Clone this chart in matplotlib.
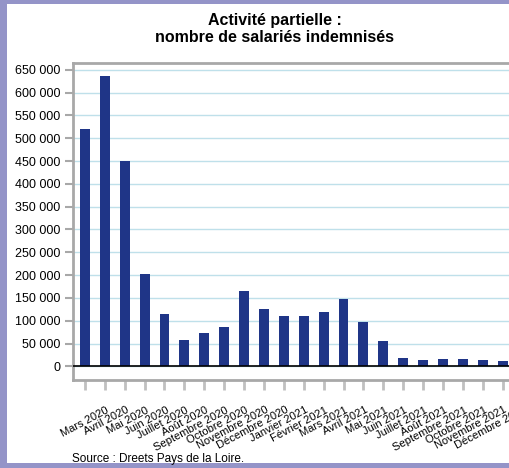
import matplotlib
matplotlib.use("Agg")
import matplotlib.pyplot as plt
from matplotlib.patches import Rectangle
import matplotlib.transforms as mtransforms

months = ["Mars 2020","Avril 2020","Mai 2020","Juin 2020","Juillet 2020","Août 2020",
          "Septembre 2020","Octobre 2020","Novembre 2020","Décembre 2020","Janvier 2021",
          "Février 2021","Mars 2021","Avril 2021","Mai 2021","Juin 2021","Juillet 2021",
          "Août 2021","Septembre 2021","Octobre 2021","Novembre 2021","Décembre 2021"]
values = [520000,637000,450000,202000,115000,57000,73000,86000,165000,126000,110000,
          110000,119000,148000,97000,55000,18000,13000,17000,15000,13000,11000]
yticks = list(range(0, 650001, 50000))
ylabels = ["0"] + [f"{v//1000} 000" for v in yticks[1:]]

W, H = 509, 468
fig = plt.figure(figsize=(W/100, H/100), dpi=100)
fig.patches.append(Rectangle((0, 0), 1, 1, transform=fig.transFigure,
                             facecolor="#9494c8", zorder=-2))
fig.patches.append(Rectangle((7/W, 5/H), 1, 1-9/H, transform=fig.transFigure,
                             facecolor="white", zorder=-1))

ax = fig.add_axes([73/W, (H-380)/H, 1.05-73/W, (380-63)/H])
x = list(range(len(values)))
ax.bar(x, values, width=0.5, color="#1f3587", zorder=3)
ax.set_xlim(-0.6, 22.6)
ax.set_ylim(-30000, 665000)
ax.set_yticks(yticks)
ax.set_yticklabels(ylabels, fontsize=9, family="Liberation Sans")
ax.grid(axis="y", color="#bfe0ea", lw=1, zorder=0)
ax.axhline(0, color="black", lw=1.2, zorder=4)
for s in ax.spines.values():
    s.set_color("#a8a8a8"); s.set_linewidth(2)
ax.spines["right"].set_visible(False)
ax.tick_params(axis="y", length=6, color="#a8a8a8", width=1.5, pad=3)
ax.set_xticks(x)
ax.set_xticklabels(months, rotation=28, ha="right", rotation_mode="anchor",
                   fontsize=8, family="Liberation Sans")
ax.tick_params(axis="x", length=7, color="#c0c0c0", width=2, pad=11)
off = mtransforms.ScaledTranslation(21/100, 0, fig.dpi_scale_trans)
for lab in ax.get_xticklabels():
    lab.set_transform(lab.get_transform() + off)

fig.text(0.54, 1-29/H, "Activité partielle :\nnombre de salariés indemnisés",
         ha="center", va="center", fontsize=11.5, fontweight="bold",
         family="Liberation Sans", linespacing=1.15)
fig.text(72/W, 1-459/H, "Source : Dreets Pays de la Loire.", fontsize=8.5,
         family="Liberation Sans", va="center")
fig.savefig("out.png", dpi=100)
